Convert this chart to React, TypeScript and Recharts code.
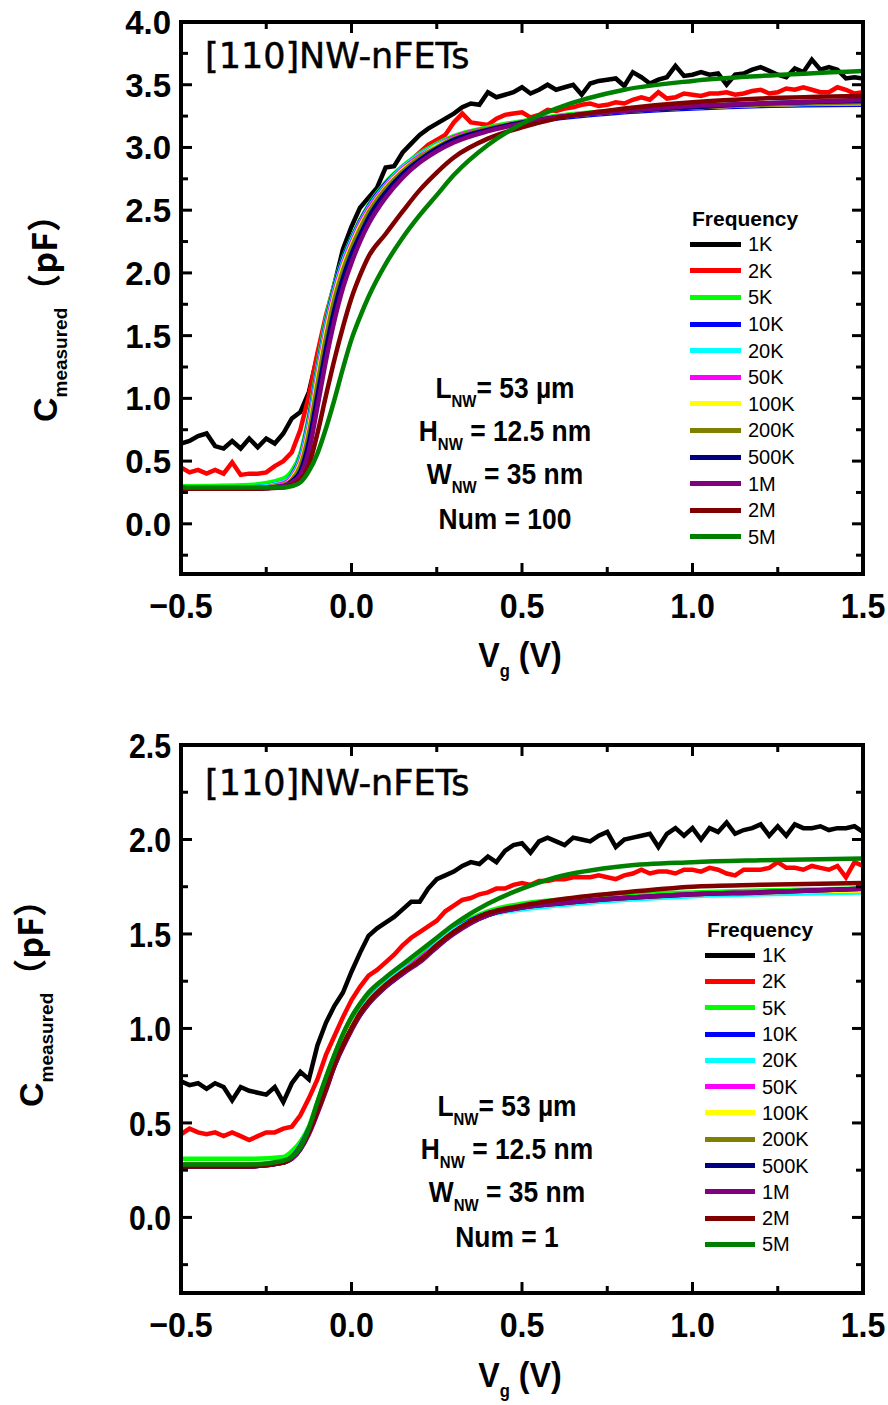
import React from "react";
import { LineChart, Line, XAxis, YAxis, Legend } from "recharts";

// frequencies, in legend order, and their colours
const FREQS = ["1K", "2K", "5K", "10K", "20K", "50K", "100K", "200K", "500K", "1M", "2M", "5M"];
const COLORS = ["#000000", "#ff0000", "#00ff00", "#0000ff", "#00ffff", "#ff00ff", "#ffff00", "#808000", "#000080", "#800080", "#800000", "#008000"];

// gate voltage grids (V): dense one for the noisy low-frequency sweeps, coarse one for the smooth ones
const VG_FINE = [
  -0.5, -0.475, -0.45, -0.425, -0.4, -0.375, -0.35, -0.325, -0.3, -0.275,
  -0.25, -0.225, -0.2, -0.175, -0.15, -0.125, -0.1, -0.075, -0.05, -0.025,
  0, 0.025, 0.05, 0.075, 0.1, 0.125, 0.15, 0.175, 0.2, 0.225,
  0.25, 0.275, 0.3, 0.325, 0.35, 0.375, 0.4, 0.425, 0.45, 0.475,
  0.5, 0.525, 0.55, 0.575, 0.6, 0.625, 0.65, 0.675, 0.7, 0.725,
  0.75, 0.775, 0.8, 0.825, 0.85, 0.875, 0.9, 0.925, 0.95, 0.975,
  1, 1.025, 1.05, 1.075, 1.1, 1.125, 1.15, 1.175, 1.2, 1.225,
  1.25, 1.275, 1.3, 1.325, 1.35, 1.375, 1.4, 1.425, 1.45, 1.475,
  1.5,
];
const VG_SMOOTH = [-0.5, -0.3, -0.2, -0.175, -0.15, -0.125, -0.1, -0.075, -0.05, -0.025, 0, 0.025, 0.05, 0.1, 0.15, 0.2, 0.25, 0.3, 0.4, 0.5, 0.6, 0.8, 1.0, 1.2, 1.5];

const X_TICKS = [-0.5, -0.25, 0, 0.25, 0.5, 0.75, 1, 1.25, 1.5];
const Y_TICKS_TOP = [-0.25, 0, 0.25, 0.5, 0.75, 1, 1.25, 1.5, 1.75, 2, 2.25, 2.5, 2.75, 3, 3.25, 3.5, 3.75, 4];
const Y_TICKS_BOTTOM = [-0.25, 0, 0.25, 0.5, 0.75, 1, 1.25, 1.5, 1.75, 2, 2.25, 2.5];

// ---- Num = 100 (pF) ----
const TOP_1K = [
  0.64, 0.66, 0.70, 0.72, 0.62, 0.60, 0.66, 0.60, 0.68, 0.61,
  0.68, 0.64, 0.72, 0.84, 0.89, 1.05, 1.34, 1.60, 1.91, 2.19,
  2.37, 2.52, 2.60, 2.68, 2.84, 2.85, 2.96, 3.03, 3.10, 3.15,
  3.19, 3.23, 3.27, 3.32, 3.35, 3.34, 3.44, 3.40, 3.42, 3.44,
  3.48, 3.43, 3.46, 3.50, 3.46, 3.48, 3.50, 3.42, 3.51, 3.53,
  3.54, 3.55, 3.49, 3.60, 3.56, 3.51, 3.54, 3.56, 3.65, 3.57,
  3.58, 3.60, 3.58, 3.59, 3.50, 3.58, 3.59, 3.62, 3.64, 3.61,
  3.58, 3.56, 3.63, 3.60, 3.70, 3.62, 3.64, 3.62, 3.55, 3.56,
  3.55,
];
const TOP_2K = [
  0.45, 0.41, 0.43, 0.40, 0.43, 0.40, 0.49, 0.39, 0.40, 0.40,
  0.41, 0.46, 0.50, 0.57, 0.75, 1.02, 1.36, 1.66, 1.91, 2.11,
  2.26, 2.42, 2.51, 2.61, 2.70, 2.77, 2.80, 2.90, 2.96, 3.02,
  3.06, 3.10, 3.20, 3.27, 3.20, 3.19, 3.18, 3.23, 3.26, 3.27,
  3.28, 3.24, 3.26, 3.30, 3.29, 3.31, 3.32, 3.34, 3.35, 3.33,
  3.34, 3.36, 3.35, 3.38, 3.40, 3.38, 3.44, 3.39, 3.40, 3.43,
  3.42, 3.41, 3.43, 3.43, 3.44, 3.42, 3.43, 3.45, 3.46, 3.43,
  3.44, 3.47, 3.46, 3.48, 3.46, 3.44, 3.44, 3.48, 3.46, 3.43,
  3.44,
];
const TOP_5K = [0.30, 0.31, 0.36, 0.42, 0.56, 0.86, 1.26, 1.63, 1.91, 2.12, 2.28, 2.42, 2.54, 2.72, 2.85, 2.95, 3.03, 3.09, 3.16, 3.21, 3.25, 3.30, 3.33, 3.35, 3.37];
const TOP_10K = [0.29, 0.29, 0.33, 0.39, 0.53, 0.83, 1.23, 1.60, 1.89, 2.11, 2.27, 2.41, 2.53, 2.71, 2.84, 2.94, 3.02, 3.08, 3.15, 3.20, 3.23, 3.28, 3.31, 3.33, 3.34];
const TOP_20K = [0.29, 0.29, 0.33, 0.38, 0.52, 0.81, 1.21, 1.58, 1.87, 2.09, 2.26, 2.40, 2.52, 2.70, 2.84, 2.94, 3.02, 3.08, 3.15, 3.20, 3.24, 3.29, 3.32, 3.34, 3.35];
const TOP_50K = [0.28, 0.28, 0.32, 0.37, 0.50, 0.78, 1.18, 1.55, 1.85, 2.07, 2.24, 2.39, 2.51, 2.69, 2.83, 2.93, 3.01, 3.08, 3.15, 3.20, 3.24, 3.29, 3.32, 3.34, 3.36];
const TOP_100K = [0.28, 0.28, 0.31, 0.36, 0.48, 0.75, 1.15, 1.52, 1.82, 2.05, 2.22, 2.37, 2.49, 2.68, 2.82, 2.92, 3.01, 3.07, 3.15, 3.20, 3.24, 3.29, 3.32, 3.34, 3.36];
const TOP_200K = [0.28, 0.28, 0.31, 0.35, 0.46, 0.72, 1.11, 1.48, 1.79, 2.02, 2.20, 2.35, 2.48, 2.67, 2.81, 2.92, 3.00, 3.07, 3.15, 3.20, 3.24, 3.29, 3.32, 3.34, 3.36];
const TOP_500K = [0.28, 0.28, 0.30, 0.34, 0.42, 0.65, 1.02, 1.39, 1.71, 1.96, 2.15, 2.30, 2.44, 2.64, 2.79, 2.90, 2.99, 3.06, 3.14, 3.20, 3.24, 3.29, 3.32, 3.35, 3.37];
const TOP_1M = [0.28, 0.28, 0.30, 0.33, 0.39, 0.58, 0.93, 1.30, 1.62, 1.88, 2.08, 2.25, 2.39, 2.60, 2.76, 2.88, 2.97, 3.04, 3.13, 3.19, 3.24, 3.29, 3.33, 3.35, 3.38];
const TOP_2M = [0.28, 0.28, 0.29, 0.31, 0.35, 0.47, 0.72, 1.02, 1.31, 1.57, 1.80, 1.98, 2.13, 2.31, 2.49, 2.66, 2.80, 2.92, 3.07, 3.16, 3.23, 3.31, 3.36, 3.39, 3.41];
const TOP_5M = [0.29, 0.29, 0.29, 0.30, 0.33, 0.42, 0.56, 0.76, 0.99, 1.24, 1.47, 1.65, 1.81, 2.07, 2.28, 2.46, 2.62, 2.78, 3.02, 3.19, 3.31, 3.46, 3.53, 3.57, 3.61];

// ---- Num = 1 (pF) ----
const BOT_1K = [
  0.72, 0.70, 0.71, 0.68, 0.71, 0.69, 0.62, 0.69, 0.67, 0.66,
  0.65, 0.69, 0.61, 0.71, 0.77, 0.73, 0.91, 1.03, 1.12, 1.19,
  1.30, 1.40, 1.49, 1.53, 1.56, 1.59, 1.63, 1.67, 1.67, 1.74,
  1.79, 1.81, 1.83, 1.86, 1.88, 1.87, 1.91, 1.88, 1.94, 1.97,
  1.98, 1.93, 1.99, 2.01, 1.99, 1.97, 2.01, 2.00, 1.99, 2.02,
  2.04, 1.96, 2.00, 2.01, 2.02, 2.03, 1.96, 2.03, 2.06, 2.02,
  2.06, 2.00, 2.06, 2.04, 2.09, 2.03, 2.05, 2.06, 2.08, 2.02,
  2.07, 2.02, 2.08, 2.06, 2.06, 2.07, 2.05, 2.06, 2.06, 2.07,
  2.04,
];
const BOT_2K = [
  0.44, 0.47, 0.45, 0.44, 0.45, 0.43, 0.45, 0.43, 0.41, 0.43,
  0.45, 0.45, 0.47, 0.48, 0.54, 0.63, 0.73, 0.86, 0.96, 1.06,
  1.15, 1.22, 1.28, 1.31, 1.35, 1.39, 1.44, 1.48, 1.51, 1.54,
  1.57, 1.62, 1.65, 1.68, 1.69, 1.71, 1.72, 1.74, 1.74, 1.76,
  1.77, 1.76, 1.78, 1.78, 1.79, 1.79, 1.80, 1.80, 1.80, 1.81,
  1.80, 1.79, 1.81, 1.82, 1.84, 1.82, 1.83, 1.83, 1.82, 1.84,
  1.84, 1.83, 1.85, 1.84, 1.82, 1.81, 1.84, 1.84, 1.84, 1.85,
  1.88, 1.85, 1.85, 1.84, 1.86, 1.85, 1.84, 1.86, 1.80, 1.88,
  1.86,
];
const BOT_5K = [0.31, 0.31, 0.32, 0.35, 0.40, 0.48, 0.61, 0.74, 0.86, 0.97, 1.06, 1.13, 1.18, 1.26, 1.32, 1.39, 1.46, 1.53, 1.62, 1.66, 1.68, 1.71, 1.72, 1.73, 1.74];
const BOT_10K = [0.27, 0.27, 0.29, 0.32, 0.38, 0.47, 0.58, 0.70, 0.83, 0.93, 1.02, 1.09, 1.15, 1.24, 1.31, 1.37, 1.45, 1.52, 1.61, 1.64, 1.66, 1.69, 1.71, 1.72, 1.73];
const BOT_20K = [0.28, 0.28, 0.29, 0.32, 0.37, 0.46, 0.58, 0.70, 0.82, 0.93, 1.02, 1.09, 1.15, 1.24, 1.31, 1.37, 1.45, 1.52, 1.60, 1.63, 1.65, 1.68, 1.70, 1.71, 1.72];
const BOT_50K = [0.28, 0.28, 0.29, 0.32, 0.37, 0.46, 0.57, 0.69, 0.82, 0.92, 1.01, 1.08, 1.14, 1.23, 1.30, 1.37, 1.44, 1.51, 1.60, 1.64, 1.66, 1.69, 1.71, 1.72, 1.73];
const BOT_100K = [0.28, 0.28, 0.29, 0.32, 0.37, 0.45, 0.57, 0.69, 0.81, 0.92, 1.01, 1.08, 1.14, 1.23, 1.30, 1.36, 1.44, 1.51, 1.60, 1.64, 1.66, 1.69, 1.71, 1.72, 1.73];
const BOT_200K = [0.28, 0.28, 0.29, 0.32, 0.37, 0.45, 0.56, 0.68, 0.81, 0.91, 1.00, 1.08, 1.14, 1.23, 1.30, 1.36, 1.44, 1.51, 1.60, 1.64, 1.66, 1.69, 1.71, 1.72, 1.74];
const BOT_500K = [0.27, 0.27, 0.29, 0.31, 0.36, 0.45, 0.56, 0.68, 0.80, 0.91, 1.00, 1.07, 1.13, 1.22, 1.29, 1.36, 1.43, 1.51, 1.60, 1.64, 1.66, 1.69, 1.71, 1.72, 1.74];
const BOT_1M = [0.27, 0.27, 0.29, 0.31, 0.36, 0.44, 0.55, 0.67, 0.80, 0.90, 0.99, 1.07, 1.13, 1.22, 1.29, 1.35, 1.43, 1.50, 1.60, 1.64, 1.66, 1.69, 1.71, 1.72, 1.74];
const BOT_2M = [0.27, 0.27, 0.29, 0.32, 0.37, 0.45, 0.56, 0.68, 0.81, 0.91, 1.00, 1.08, 1.14, 1.23, 1.30, 1.36, 1.44, 1.51, 1.61, 1.65, 1.68, 1.72, 1.75, 1.76, 1.77];
const BOT_5M = [0.28, 0.28, 0.30, 0.32, 0.37, 0.47, 0.61, 0.74, 0.86, 0.97, 1.06, 1.13, 1.19, 1.27, 1.34, 1.41, 1.48, 1.55, 1.66, 1.74, 1.80, 1.86, 1.88, 1.89, 1.90];

const SANS = "'Liberation Sans', Arial, sans-serif";

const W = 888;
const PLOT_LEFT = 181;
const PLOT_RIGHT = 863;
const TICK_GAP = 20;
const LEFT_W = 60, RIGHT_W = 6, BOTTOM_H = 40, TOP_H = 6;

const toPts = (xs: number[], ys: number[]) => xs.map((v, i) => ({ v, c: ys[i] }));
const isMajor = (v: number) => Math.abs(v * 2 - Math.round(v * 2)) < 1e-6;
const fmt = (v: number) => (v < 0 ? "\u2212" : "") + Math.abs(v).toFixed(1);

type Font = { size: number; sx: number };

function makeTick(side: "bottom" | "top" | "left" | "right", font?: Font) {
  return (p: any) => {
    const v = p.payload.value;
    const len = isMajor(v) ? 11 : 7;
    let x1 = p.x, y1 = p.y, x2 = p.x, y2 = p.y;
    let label = null;
    const txt = (tx: number, ty: number, anchor: "middle" | "end") => (
      <text transform={`translate(${tx},${ty}) scale(${font!.sx},1)`} x={0} y={0} textAnchor={anchor}
        fontFamily={SANS} fontSize={font!.size} fontWeight={700} fill="#000">{fmt(v)}</text>
    );
    if (side === "bottom") {
      y1 = p.y - TICK_GAP; y2 = y1 - len;
      if (font && isMajor(v)) label = txt(p.x, y1 + 31 + font.size * 0.36, "middle");
    } else if (side === "top") {
      y1 = p.y + TICK_GAP; y2 = y1 + len;
    } else if (side === "left") {
      x1 = p.x + TICK_GAP; x2 = x1 + len;
      if (font && isMajor(v)) label = txt(x1 - 10, p.y + font.size * 0.36, "end");
    } else {
      x1 = p.x - TICK_GAP; x2 = x1 - len;
    }
    return (
      <g>
        <line x1={x1} y1={y1} x2={x2} y2={y2} stroke="#000" strokeWidth={3} />
        {label}
      </g>
    );
  };
}

function FreqLegend({ payload, rowH, swatch }: any) {
  const colorOf = new Map((payload || []).map((p: any) => [p.value, p.color]));
  return (
    <div style={{ fontFamily: SANS, color: "#000" }}>
      <div style={{ height: 24, lineHeight: "24px", fontSize: 21, fontWeight: 700, paddingLeft: 2 }}>Frequency</div>
      {FREQS.map((f) => (
        <div key={f} style={{ height: rowH, display: "flex", alignItems: "center" }}>
          <span style={{ display: "inline-block", width: swatch, height: 5, background: colorOf.get(f) as string }} />
          <span style={{ marginLeft: 7, fontSize: 20, lineHeight: "20px" }}>{f}</span>
        </div>
      ))}
    </div>
  );
}

const AXIS_LINE = { stroke: "#000", strokeWidth: 4, strokeLinecap: "square" as const };

type PanelCfg = {
  top: number;
  height: number;
  plotTop: number;
  plotBottom: number;
  yMax: number;
  yTicks: number[];
  yFont: Font;
  series: { name: string; color: string; pts: { v: number; c: number }[]; smooth: boolean }[];
  num: string;
  titleY: number;
  noteX: number;
  noteY: number;
  legend: { left: number; top: number; rowH: number; swatch: number };
  yLabel: { x: number; y: number };
  xLabelY: number;
};

function Panel({ cfg }: { cfg: PanelCfg }) {
  const margin = {
    top: cfg.plotTop - TOP_H,
    right: W - PLOT_RIGHT - RIGHT_W,
    bottom: cfg.height - cfg.plotBottom - BOTTOM_H,
    left: PLOT_LEFT - LEFT_W,
  };
  const xFont: Font = { size: 35, sx: 0.92 };
  const noteStyle: React.CSSProperties = {
    position: "absolute", left: cfg.noteX, transform: "translate(-50%, -50%) scaleX(0.88)", whiteSpace: "nowrap",
    fontFamily: SANS, fontWeight: 700, fontSize: 30, lineHeight: "30px", color: "#000",
  };
  const sub: React.CSSProperties = { fontSize: 17, position: "relative", top: 9 };
  const notes = [
    <>L<span style={sub}>NW</span>= 53 µm</>,
    <>H<span style={sub}>NW</span> = 12.5 nm</>,
    <>W<span style={sub}>NW</span> = 35 nm</>,
    <>Num = {cfg.num}</>,
  ];
  return (
    <div style={{ position: "absolute", left: 0, top: cfg.top, width: W, height: cfg.height }}>
      <LineChart width={W} height={cfg.height} margin={margin}>
        <XAxis xAxisId={0} dataKey="v" type="number" domain={[-0.5, 1.5]} ticks={X_TICKS} interval={0} allowDataOverflow
          height={BOTTOM_H} tickSize={0} tickMargin={TICK_GAP} tickLine={false} axisLine={AXIS_LINE} tick={makeTick("bottom", xFont)} />
        <XAxis xAxisId="top" orientation="top" dataKey="v" type="number" domain={[-0.5, 1.5]} ticks={X_TICKS} interval={0} allowDataOverflow
          height={TOP_H} tickSize={0} tickMargin={TICK_GAP} tickLine={false} axisLine={AXIS_LINE} tick={makeTick("top")} />
        <YAxis yAxisId={0} type="number" domain={[-0.4, cfg.yMax]} ticks={cfg.yTicks} interval={0} allowDataOverflow
          width={LEFT_W} tickSize={0} tickMargin={TICK_GAP} tickLine={false} axisLine={AXIS_LINE} tick={makeTick("left", cfg.yFont)} />
        <YAxis yAxisId="right" orientation="right" type="number" domain={[-0.4, cfg.yMax]} ticks={cfg.yTicks} interval={0} allowDataOverflow
          width={RIGHT_W} tickSize={0} tickMargin={TICK_GAP} tickLine={false} axisLine={AXIS_LINE} tick={makeTick("right")} />
        {cfg.series.map((s) => (
          <Line key={s.name} data={s.pts} dataKey="c" name={s.name} stroke={s.color} strokeWidth={4.5}
            type={s.smooth ? "monotone" : "linear"} dot={false} activeDot={false} isAnimationActive={false} />
        ))}
        <Legend layout="vertical" align="center" verticalAlign="middle"
          wrapperStyle={{ left: cfg.legend.left, top: cfg.legend.top, width: 150, height: 350 }}
          content={(props: any) => <FreqLegend payload={props.payload} rowH={cfg.legend.rowH} swatch={cfg.legend.swatch} />} />
      </LineChart>

      <div style={{ position: "absolute", left: 205, top: cfg.titleY, transform: "translateY(-50%)", fontFamily: "'DejaVu Sans', sans-serif", fontSize: 35, lineHeight: "35px", color: "#000", whiteSpace: "nowrap", WebkitTextStroke: "0.5px #000" }}>
        [110]NW-nFETs
      </div>
      {notes.map((n, i) => (
        <div key={i} style={{ ...noteStyle, top: cfg.noteY + i * 43 }}>{n}</div>
      ))}
      <div style={{ position: "absolute", left: cfg.yLabel.x, top: cfg.yLabel.y, transform: "translate(-50%, -50%) rotate(-90deg)", whiteSpace: "nowrap", color: "#000", fontFamily: SANS, fontWeight: 700, lineHeight: "36px" }}>
        <span style={{ fontSize: 34 }}>C</span>
        <span style={{ fontSize: 19, position: "relative", top: 10 }}>measured</span>
        <span style={{ fontSize: 34, fontFamily: "'Noto Sans CJK JP', sans-serif" }}>（pF）</span>
      </div>
      <div style={{ position: "absolute", left: 520, top: cfg.xLabelY, transform: "translate(-50%, -50%) scaleX(0.92)", whiteSpace: "nowrap", color: "#000", fontFamily: SANS, fontWeight: 700, fontSize: 35, lineHeight: "35px" }}>
        V<span style={{ fontSize: 18, position: "relative", top: 10 }}>g</span> (V)
      </div>
    </div>
  );
}

const buildSeries = (fine: number[][], smooth: number[][]) => [
  ...fine.map((ys, i) => ({ name: FREQS[i], color: COLORS[i], pts: toPts(VG_FINE, ys), smooth: false })),
  ...smooth.map((ys, i) => ({ name: FREQS[i + fine.length], color: COLORS[i + fine.length], pts: toPts(VG_SMOOTH, ys), smooth: true })),
];

const TOP_PANEL: PanelCfg = {
  top: 0, height: 702, plotTop: 22, plotBottom: 574, yMax: 4, yTicks: Y_TICKS_TOP,
  yFont: { size: 33, sx: 1 },
  series: buildSeries([TOP_1K, TOP_2K], [TOP_5K, TOP_10K, TOP_20K, TOP_50K, TOP_100K, TOP_200K, TOP_500K, TOP_1M, TOP_2M, TOP_5M]),
  num: "100", titleY: 56, noteX: 505, noteY: 390,
  legend: { left: 690, top: 207, rowH: 26.6, swatch: 51 },
  yLabel: { x: 47, y: 310 }, xLabelY: 658,
};

const BOTTOM_PANEL: PanelCfg = {
  top: 702, height: 703, plotTop: 43, plotBottom: 591, yMax: 2.5, yTicks: Y_TICKS_BOTTOM,
  yFont: { size: 36, sx: 0.84 },
  series: buildSeries([BOT_1K, BOT_2K], [BOT_5K, BOT_10K, BOT_20K, BOT_50K, BOT_100K, BOT_200K, BOT_500K, BOT_1M, BOT_2M, BOT_5M]),
  num: "1", titleY: 81, noteX: 507, noteY: 406,
  legend: { left: 705, top: 216, rowH: 26.3, swatch: 50 },
  yLabel: { x: 33, y: 293 }, xLabelY: 676,
};

export default function App() {
  return (
    <div style={{ position: "absolute", left: 0, top: 0, width: W, height: 1405, background: "#fff", overflow: "hidden" }}>
      <Panel cfg={TOP_PANEL} />
      <Panel cfg={BOTTOM_PANEL} />
    </div>
  );
}
